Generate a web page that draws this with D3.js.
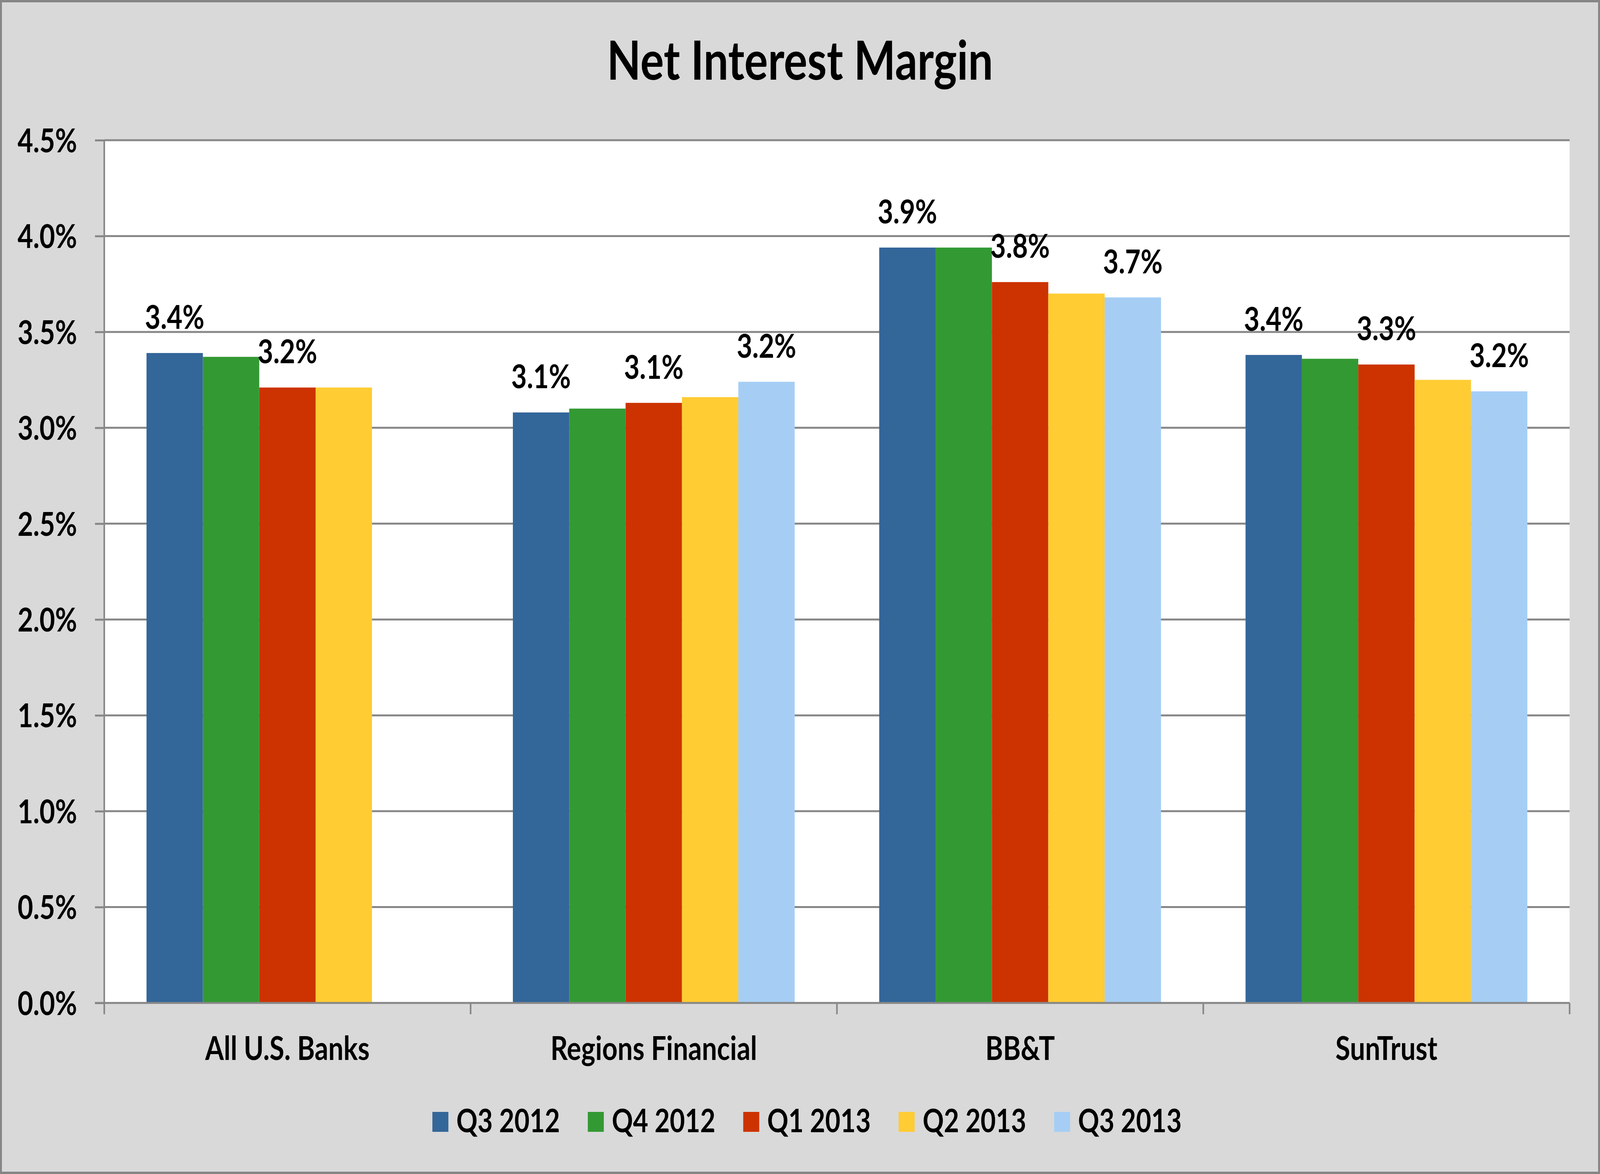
<!DOCTYPE html>
<html>
<head>
<meta charset="utf-8">
<script src="https://cdn.jsdelivr.net/npm/d3@7"></script>
<style>
  html, body { margin: 0; padding: 0; background: #d9d9d9; overflow: hidden; }
  svg { display: block; }
  text { font-family: Lato, "Open Sans", sans-serif; font-weight: bold; fill: #000; }
</style>
</head>
<body>
<svg></svg>
<script>
// chart data
const categories = ['All U.S. Banks', 'Regions Financial', 'BB&T', 'SunTrust'];
const series = ['Q3 2012', 'Q4 2012', 'Q1 2013', 'Q2 2013', 'Q3 2013'];
const colors = ['#336699', '#339933', '#CC3300', '#FFCC33', '#A6CEF5'];

// values in %, one array per series (null = no bar)
const q3_2012 = [3.39, 3.08, 3.94, 3.38];
const q4_2012 = [3.37, 3.10, 3.94, 3.36];
const q1_2013 = [3.21, 3.13, 3.76, 3.33];
const q2_2013 = [3.21, 3.16, 3.70, 3.25];
const q3_2013 = [null, 3.24, 3.68, 3.19];
const values = [q3_2012, q4_2012, q1_2013, q2_2013, q3_2013];

// only these series carry a data label
const labelled = ['Q3 2012', 'Q1 2013', 'Q3 2013'];

const yTicks = [0, 0.5, 1.0, 1.5, 2.0, 2.5, 3.0, 3.5, 4.0, 4.5];

const W = 5003, H = 3006;
const plot = { left: 326, right: 4908, top: 359, bottom: 2568 };

// draw in a 5003x3006 space and stretch it over whatever window we get
const vw = window.innerWidth || W, vh = window.innerHeight || H;
const svg = d3.select('svg')
    .attr('width', vw)
    .attr('height', vh)
    .attr('viewBox', `0 0 ${W} ${H}`)
    .attr('preserveAspectRatio', 'none');

// outer background and border
svg.append('rect')
    .attr('x', 3).attr('y', 3)
    .attr('width', W - 6).attr('height', H - 6)
    .attr('fill', '#d9d9d9')
    .attr('stroke', '#868686')
    .attr('stroke-width', 6);

// plot area
svg.append('rect')
    .attr('x', plot.left).attr('y', plot.top)
    .attr('width', plot.right - plot.left).attr('height', plot.bottom - plot.top)
    .attr('fill', '#ffffff');

const x0 = d3.scaleBand()
    .domain(categories)
    .range([plot.left, plot.right]);

// gap width 150% -> 5 bars take 5/6.5 of the category
const x1 = d3.scaleBand()
    .domain(series)
    .range([0, x0.bandwidth()])
    .paddingInner(0)
    .paddingOuter(0.75);

const y = d3.scaleLinear()
    .domain([0, 4.5])
    .range([plot.bottom, plot.top]);

// gridlines
svg.append('g')
    .selectAll('line')
    .data(yTicks.filter(d => d > 0))
    .join('line')
    .attr('x1', plot.left).attr('x2', plot.right)
    .attr('y1', d => y(d)).attr('y2', d => y(d))
    .attr('stroke', '#878787')
    .attr('stroke-width', 5);

// y axis
const yAxis = svg.append('g')
    .attr('transform', `translate(${plot.left},0)`)
    .call(d3.axisLeft(y).tickValues(yTicks).tickFormat(d => d.toFixed(1) + '%')
        .tickSize(29).tickPadding(56));
yAxis.select('.domain').attr('stroke', '#878787').attr('stroke-width', 5)
    .attr('d', `M0,${plot.top}V${plot.bottom}`);
yAxis.selectAll('.tick line').attr('stroke', '#878787').attr('stroke-width', 5);
yAxis.selectAll('.tick text')
    .attr('font-size', 84)
    .attr('font-family', 'Lato')
    .attr('font-weight', 'bold')
    .attr('fill', '#000')
    .attr('dy', '0.36em');

// bars
const barGroups = svg.append('g')
    .selectAll('g')
    .data(series)
    .join('g')
    .attr('fill', (d, i) => colors[i]);

barGroups.selectAll('rect')
    .data((s, si) => categories.map((c, ci) => ({ s, c, v: values[si][ci] })).filter(d => d.v != null))
    .join('rect')
    .attr('x', d => x0(d.c) + x1(d.s))
    .attr('width', x1.bandwidth())
    .attr('y', d => y(d.v))
    .attr('height', d => y(0) - y(d.v));

// x axis baseline and category ticks
svg.append('line')
    .attr('x1', plot.left - 29).attr('x2', plot.right)
    .attr('y1', plot.bottom).attr('y2', plot.bottom)
    .attr('stroke', '#878787').attr('stroke-width', 5);

const boundaries = categories.map(c => x0(c)).concat([plot.right]);
svg.append('g')
    .selectAll('line')
    .data(boundaries)
    .join('line')
    .attr('x1', d => d).attr('x2', d => d)
    .attr('y1', plot.bottom).attr('y2', plot.bottom + 29)
    .attr('stroke', '#878787').attr('stroke-width', 5);

// category labels
svg.append('g')
    .selectAll('text')
    .data(categories)
    .join('text')
    .attr('x', d => x0(d) + x0.bandwidth() / 2)
    .attr('y', 2714)
    .attr('text-anchor', 'middle')
    .attr('font-size', 84)
    .text(d => d);

// data labels
const labelData = [];
series.forEach((s, si) => {
    if (!labelled.includes(s)) return;
    categories.forEach((c, ci) => {
        const v = values[si][ci];
        if (v != null) labelData.push({ s, c, v });
    });
});
svg.append('g')
    .selectAll('text')
    .data(labelData)
    .join('text')
    .attr('x', d => x0(d.c) + x1(d.s) + x1.bandwidth() / 2)
    .attr('y', d => y(d.v) - 62)
    .attr('text-anchor', 'middle')
    .attr('font-size', 84)
    .text(d => d.v.toFixed(1) + '%');

// title
svg.append('text')
    .attr('x', W / 2)
    .attr('y', 204)
    .attr('text-anchor', 'middle')
    .attr('font-size', 138)
    .text('Net Interest Margin');

// legend
const legendX = d3.scaleBand()
    .domain(series)
    .range([1352, 1352 + 5 * 486]);

const legend = svg.append('g')
    .selectAll('g')
    .data(series)
    .join('g')
    .attr('transform', d => `translate(${legendX(d)},0)`);

legend.append('rect')
    .attr('x', 0).attr('y', 2847)
    .attr('width', 50).attr('height', 51)
    .attr('fill', (d, i) => colors[i]);

legend.append('text')
    .attr('x', 75).attr('y', 2899)
    .attr('font-size', 82)
    .text(d => d);
</script>
</body>
</html>
